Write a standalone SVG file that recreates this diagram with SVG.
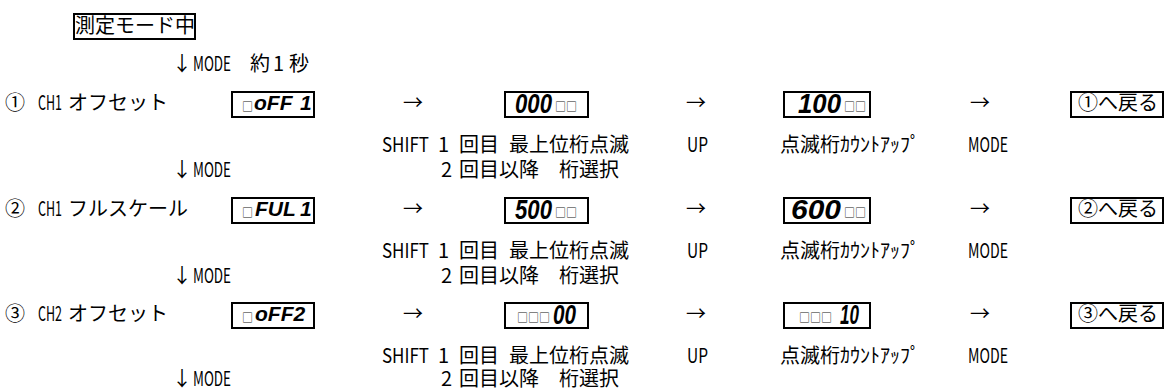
<svg xmlns="http://www.w3.org/2000/svg" width="1166" height="390" viewBox="0 0 1166 390">
<style>
.t{font-family:"Noto Sans CJK JP","Noto Sans",sans-serif;font-size:20px;fill:#000}
.box{fill:none;stroke:#000;stroke-width:2}
.seg{font-family:"Liberation Sans","DejaVu Sans",sans-serif;font-weight:bold;font-style:italic;fill:#000}
.d{font-size:27px}
.l{font-size:21px}
.sq{font-family:"Noto Sans CJK JP",sans-serif;font-size:11px;fill:#222}
</style>
<rect width="1166" height="390" fill="#fff"/>

<g id="start">
  <rect class="box" x="74" y="14" width="121" height="25"/>
  <text class="t" x="75" y="33">測定モード中</text>
</g>

<g id="connectors">
  <text class="t" y="71"><tspan x="172">↓</tspan><tspan x="193" textLength="38" lengthAdjust="spacingAndGlyphs">MODE</tspan>　<tspan x="250">約</tspan> <tspan x="273">1</tspan> <tspan x="289">秒</tspan></text>
  <text class="t" y="110"><tspan x="403">→</tspan><tspan x="686">→</tspan><tspan x="970">→</tspan></text>
  <text class="t" y="216"><tspan x="403">→</tspan><tspan x="686">→</tspan><tspan x="970">→</tspan></text>
  <text class="t" y="321"><tspan x="403">→</tspan><tspan x="686">→</tspan><tspan x="970">→</tspan></text>
  <text class="t" y="177"><tspan x="172">↓</tspan><tspan x="193" textLength="38" lengthAdjust="spacingAndGlyphs">MODE</tspan></text>
  <text class="t" y="283"><tspan x="172">↓</tspan><tspan x="193" textLength="38" lengthAdjust="spacingAndGlyphs">MODE</tspan></text>
  <text class="t" y="386"><tspan x="172">↓</tspan><tspan x="193" textLength="38" lengthAdjust="spacingAndGlyphs">MODE</tspan></text>
</g>

<!-- Row 1 -->
<g id="row1-label">
  <text class="t" y="110"><tspan x="5">①</tspan> <tspan x="38" textLength="24" lengthAdjust="spacingAndGlyphs">CH1</tspan> <tspan x="68">オフセット</tspan></text>
</g>
<g id="row1-display1">
  <rect class="box" x="232" y="92" width="82" height="25"/>
  <text class="sq" x="242" y="110.5">□</text>
  <text class="seg l" y="110"><tspan x="254">oFF</tspan><tspan x="300">1</tspan></text>
</g>
<g id="row1-display2">
  <rect class="box" x="505" y="92" width="83" height="25"/>
  <text class="seg d" x="515" y="113" textLength="37" lengthAdjust="spacingAndGlyphs">000</text>
  <text class="sq" x="555" y="110.5">□□</text>
</g>
<g id="row1-display3">
  <rect class="box" x="784" y="92" width="86" height="25"/>
  <text class="seg d" x="798" y="113" textLength="43" lengthAdjust="spacingAndGlyphs">100</text>
  <text class="sq" x="844" y="110.5">□□</text>
</g>
<g id="row1-return">
  <rect class="box" x="1071" y="92" width="92" height="25"/>
  <text class="t" x="1078" y="110">①へ戻る</text>
</g>
<g id="row1-notes">
  <text class="t" y="152"><tspan x="382" textLength="47" lengthAdjust="spacingAndGlyphs">SHIFT</tspan> <tspan x="438">1</tspan> <tspan x="459">回目</tspan> <tspan x="509">最上位桁点滅</tspan></text>
  <text class="t" x="687" y="152" textLength="21" lengthAdjust="spacingAndGlyphs">UP</text>
  <text class="t" y="152"><tspan x="780">点滅桁</tspan><tspan x="840">ｶｳﾝﾄｱｯﾌﾟ</tspan></text>
  <text class="t" x="968" y="152" textLength="40" lengthAdjust="spacingAndGlyphs">MODE</text>
  <text class="t" y="177"><tspan x="441">2</tspan> <tspan x="459">回目以降</tspan>　<tspan x="559">桁選択</tspan></text>
</g>

<!-- Row 2 -->
<g id="row2-label">
  <text class="t" y="216"><tspan x="5">②</tspan> <tspan x="38" textLength="24" lengthAdjust="spacingAndGlyphs">CH1</tspan> <tspan x="68">フルスケール</tspan></text>
</g>
<g id="row2-display1">
  <rect class="box" x="232" y="198" width="82" height="25"/>
  <text class="sq" x="242" y="216.5">□</text>
  <text class="seg l" y="216"><tspan x="255">FUL</tspan><tspan x="300">1</tspan></text>
</g>
<g id="row2-display2">
  <rect class="box" x="505" y="198" width="83" height="25"/>
  <text class="seg d" x="515" y="219" textLength="37" lengthAdjust="spacingAndGlyphs">500</text>
  <text class="sq" x="555" y="216.5">□□</text>
</g>
<g id="row2-display3">
  <rect class="box" x="784" y="198" width="86" height="25"/>
  <text class="seg d" x="791" y="219" textLength="50" lengthAdjust="spacingAndGlyphs">600</text>
  <text class="sq" x="844" y="216.5">□□</text>
</g>
<g id="row2-return">
  <rect class="box" x="1071" y="198" width="92" height="25"/>
  <text class="t" x="1078" y="216">②へ戻る</text>
</g>
<g id="row2-notes">
  <text class="t" y="258"><tspan x="382" textLength="47" lengthAdjust="spacingAndGlyphs">SHIFT</tspan> <tspan x="438">1</tspan> <tspan x="459">回目</tspan> <tspan x="509">最上位桁点滅</tspan></text>
  <text class="t" x="687" y="258" textLength="21" lengthAdjust="spacingAndGlyphs">UP</text>
  <text class="t" y="258"><tspan x="780">点滅桁</tspan><tspan x="840">ｶｳﾝﾄｱｯﾌﾟ</tspan></text>
  <text class="t" x="968" y="258" textLength="40" lengthAdjust="spacingAndGlyphs">MODE</text>
  <text class="t" y="283"><tspan x="441">2</tspan> <tspan x="459">回目以降</tspan>　<tspan x="559">桁選択</tspan></text>
</g>

<!-- Row 3 -->
<g id="row3-label">
  <text class="t" y="321"><tspan x="5">③</tspan> <tspan x="38" textLength="24" lengthAdjust="spacingAndGlyphs">CH2</tspan> <tspan x="68">オフセット</tspan></text>
</g>
<g id="row3-display1">
  <rect class="box" x="232" y="303" width="82" height="25"/>
  <text class="sq" x="242" y="321.5">□</text>
  <text class="seg l" x="255" y="321">oFF2</text>
</g>
<g id="row3-display2">
  <rect class="box" x="505" y="303" width="83" height="25"/>
  <text class="sq" x="517" y="321.5">□□□</text>
  <text class="seg d" x="553" y="324" textLength="23" lengthAdjust="spacingAndGlyphs">00</text>
</g>
<g id="row3-display3">
  <rect class="box" x="784" y="303" width="86" height="25"/>
  <text class="sq" x="799" y="321.5">□□□</text>
  <text class="seg d" x="840" y="324" textLength="19" lengthAdjust="spacingAndGlyphs">10</text>
</g>
<g id="row3-return">
  <rect class="box" x="1071" y="303" width="92" height="25"/>
  <text class="t" x="1078" y="321">③へ戻る</text>
</g>
<g id="row3-notes">
  <text class="t" y="363"><tspan x="382" textLength="47" lengthAdjust="spacingAndGlyphs">SHIFT</tspan> <tspan x="438">1</tspan> <tspan x="459">回目</tspan> <tspan x="509">最上位桁点滅</tspan></text>
  <text class="t" x="687" y="363" textLength="21" lengthAdjust="spacingAndGlyphs">UP</text>
  <text class="t" y="363"><tspan x="780">点滅桁</tspan><tspan x="840">ｶｳﾝﾄｱｯﾌﾟ</tspan></text>
  <text class="t" x="968" y="363" textLength="40" lengthAdjust="spacingAndGlyphs">MODE</text>
  <text class="t" y="386"><tspan x="441">2</tspan> <tspan x="459">回目以降</tspan>　<tspan x="559">桁選択</tspan></text>
</g>
</svg>
